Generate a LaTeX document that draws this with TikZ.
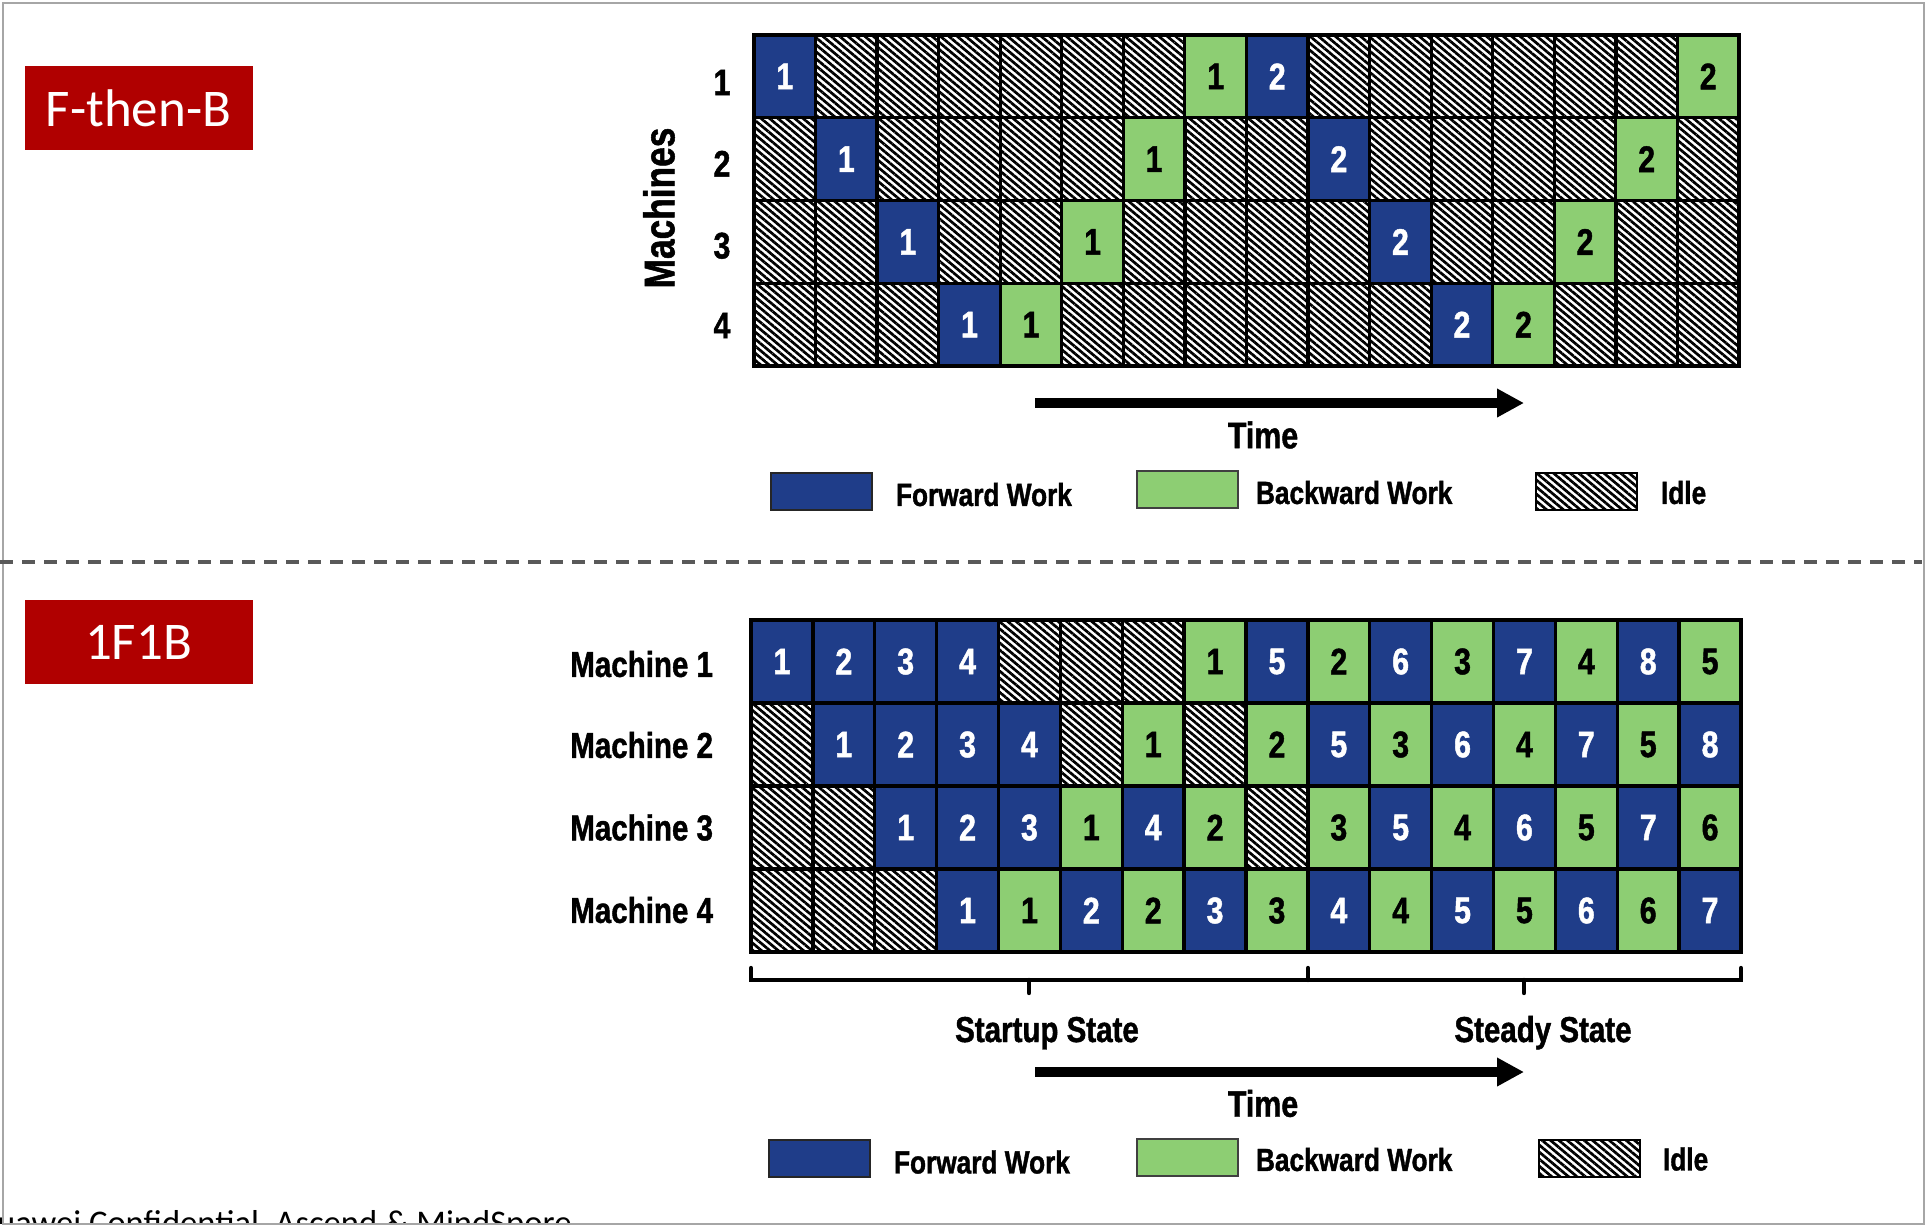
\documentclass[tikz,border=0pt]{standalone}
\usepackage{fontspec}
\usetikzlibrary{patterns.meta,arrows.meta}
\newfontfamily\condf{Liberation Sans}[FakeStretch=0.82, BoldFeatures={FakeBold=1.2}]
\newfontfamily\carl{Carlito}
\definecolor{fwd}{RGB}{31,61,137}
\definecolor{bwd}{RGB}{141,206,115}
\definecolor{redlab}{RGB}{176,0,0}
\tikzset{
  hatch/.style={pattern={Lines[angle=-40,distance=2.7pt,line width=1.35pt]}},
  cellbase/.style={draw=black, line width=1.6pt, minimum width=30.85pt, minimum height=41.45pt,
    inner sep=0pt, outer sep=0pt, font=\condf\bfseries\fontsize{18.5}{18.5}\selectfont},
  cellF/.style={cellbase, fill=fwd, text=white},
  cellB/.style={cellbase, fill=bwd, text=black},
  cellI/.style={cellbase, hatch},
  gridframe/.style={draw=black, line width=2pt},
  redbox/.style={fill=redlab, text=white, minimum width=114pt, minimum height=42pt, inner sep=0pt,
    font=\carl\fontsize{26.5}{26.5}\selectfont},
  lbl/.style={inner sep=0pt, outer sep=0pt, font=\condf\bfseries\fontsize{18.5}{18.5}\selectfont},
  leglbl/.style={inner sep=0pt, outer sep=0pt, anchor=west, font=\condf\bfseries\fontsize{16}{16}\selectfont},
  legbox/.style={minimum width=50.5pt, minimum height=18.5pt, inner sep=0pt, line width=1pt},
  timearrow/.style={line width=5pt, -{Triangle[length=13.5pt 0 0, width=13.5pt 0 0]}},
  bracket/.style={line width=2.2pt, line cap=round},
  sepline/.style={draw=black!65, line width=2pt, dash pattern=on 6.5pt off 4.5pt},
}
\newcommand\gridrow[6]{%
  \foreach \t/\n [count=\i] in {#6} {\node[cell\t] (#1-#2-\i) at ({#3+(\i-0.5)*#4},#5) {\n};}}
\begin{document}
\begin{tikzpicture}[x=0.5pt,y=-0.5pt]
\useasboundingbox (0,0) rectangle (1928,1228);
\fill[white] (0,0) rectangle (1928,1228);
% ---------- footer (cut off by the page edge, as in the original)
\begin{scope}
  \clip (0,0) rectangle (1928,1223);
  \node[anchor=base east, inner sep=0pt, font=\carl\fontsize{17.3}{17.3}\selectfont] (foot) at (572,1234) {uawei Confidential, Ascend \& MindSpore};
\end{scope}
% ---------- frame
\draw[black!35, line width=1.2pt] (3,3) rectangle (1924,1224);
% ---------- titles
\node[redbox] (fb) at (138.5,108) {F-then-B};
\node[redbox] (ofob) at (138.5,642) {1F1B};
% ---------- separator
\coordinate (sepL) at (0,562);
\coordinate (sepR) at (1922,562);
\draw[sepline] (sepL) -- (sepR);
% ---------- top grid (F-then-B)
\gridrow{t}{1}{754}{61.56}{76.4}{F/1,I/{},I/{},I/{},I/{},I/{},I/{},B/1,F/2,I/{},I/{},I/{},I/{},I/{},I/{},B/2}
\gridrow{t}{2}{754}{61.56}{159.1}{I/{},F/1,I/{},I/{},I/{},I/{},B/1,I/{},I/{},F/2,I/{},I/{},I/{},I/{},B/2,I/{}}
\gridrow{t}{3}{754}{61.56}{241.9}{I/{},I/{},F/1,I/{},I/{},B/1,I/{},I/{},I/{},I/{},F/2,I/{},I/{},B/2,I/{},I/{}}
\gridrow{t}{4}{754}{61.56}{324.6}{I/{},I/{},I/{},F/1,B/1,I/{},I/{},I/{},I/{},I/{},I/{},F/2,B/2,I/{},I/{},I/{}}
\draw[gridframe] (t-1-1.north west) rectangle (t-4-16.south east);
\node[lbl] (tr1) at (722,82.5) {1};
\node[lbl] (tr2) at (722,163.7) {2};
\node[lbl] (tr3) at (722,245.7) {3};
\node[lbl] (tr4) at (722,325.5) {4};
\node[lbl, rotate=90, font=\condf\bfseries\fontsize{21.5}{21.5}\selectfont] (mach) at (659,208) {Machines};
% time arrow top
\coordinate (ta1) at (1035,403);
\coordinate (ta2) at (1524,403);
\draw[timearrow] (ta1) -- (ta2);
\node[lbl] (time1) at (1263,435) {Time};
% legend top
\node[legbox, draw=black!85, fill=fwd] (lf1) at (821,491.5) {};
\node[leglbl] (lft1) at (896,494.5) {Forward Work};
\node[legbox, draw=black!75, fill=bwd] (lb1) at (1187.5,489.5) {};
\node[leglbl] (lbt1) at (1256,492.5) {Backward Work};
\node[legbox, draw=black, hatch] (li1) at (1586.5,491.5) {};
\node[leglbl] (lit1) at (1661,492.5) {Idle};
% ---------- bottom grid (1F1B)
\gridrow{b}{1}{751}{61.875}{661.5}{F/1,F/2,F/3,F/4,I/{},I/{},I/{},B/1,F/5,B/2,F/6,B/3,F/7,B/4,F/8,B/5}
\gridrow{b}{2}{751}{61.875}{744.5}{I/{},F/1,F/2,F/3,F/4,I/{},B/1,I/{},B/2,F/5,B/3,F/6,B/4,F/7,B/5,F/8}
\gridrow{b}{3}{751}{61.875}{827.5}{I/{},I/{},F/1,F/2,F/3,B/1,F/4,B/2,I/{},B/3,F/5,B/4,F/6,B/5,F/7,B/6}
\gridrow{b}{4}{751}{61.875}{910.5}{I/{},I/{},I/{},F/1,B/1,F/2,B/2,F/3,B/3,F/4,B/4,F/5,B/5,F/6,B/6,F/7}
\draw[gridframe] (b-1-1.north west) rectangle (b-4-16.south east);
\node[lbl, anchor=east, font=\condf\bfseries\fontsize{18}{18}\selectfont] (m1) at (713,664) {Machine 1};
\node[lbl, anchor=east, font=\condf\bfseries\fontsize{18}{18}\selectfont] (m2) at (713,745) {Machine 2};
\node[lbl, anchor=east, font=\condf\bfseries\fontsize{18}{18}\selectfont] (m3) at (713,827.5) {Machine 3};
\node[lbl, anchor=east, font=\condf\bfseries\fontsize{18}{18}\selectfont] (m4) at (713,910) {Machine 4};
% brackets
\coordinate (bk0) at (751,968);
\coordinate (bk0b) at (751,980);
\coordinate (bk1) at (1308,968);
\coordinate (bk1b) at (1308,980);
\coordinate (bk2) at (1741,968);
\coordinate (bk2b) at (1741,980);
\coordinate (bm1) at (1029,980);
\coordinate (bm1b) at (1029,993);
\coordinate (bm2) at (1524,980);
\coordinate (bm2b) at (1524,993);
\draw[bracket] (bk0) -- (bk0b) -- (bk2b) -- (bk2);
\draw[bracket] (bk1) -- (bk1b);
\draw[bracket] (bm1) -- (bm1b);
\draw[bracket] (bm2) -- (bm2b);
\node[lbl, anchor=base, font=\condf\bfseries\fontsize{18}{18}\selectfont] (st1) at (1047,1042) {Startup State};
\node[lbl, anchor=base, font=\condf\bfseries\fontsize{18}{18}\selectfont] (st2) at (1543,1042) {Steady State};
% time arrow bottom
\coordinate (tb1) at (1035,1072);
\coordinate (tb2) at (1524,1072);
\draw[timearrow] (tb1) -- (tb2);
\node[lbl] (time2) at (1263,1103.5) {Time};
% legend bottom
\node[legbox, draw=black!85, fill=fwd] (lf2) at (819,1158.5) {};
\node[leglbl] (lft2) at (894,1162) {Forward Work};
\node[legbox, draw=black!75, fill=bwd] (lb2) at (1187,1157) {};
\node[leglbl] (lbt2) at (1256,1159.5) {Backward Work};
\node[legbox, draw=black, hatch] (li2) at (1589,1158.5) {};
\node[leglbl] (lit2) at (1663,1159) {Idle};
\end{tikzpicture}
\end{document}
